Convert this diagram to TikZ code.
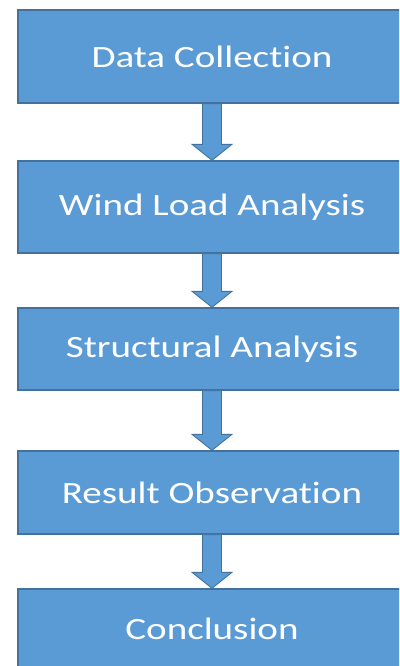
\documentclass[tikz,border=0pt]{standalone}
\usepackage{fontspec}
\setmainfont{Carlito}[Ligatures={NoCommon}]
\usetikzlibrary{calc}
\definecolor{boxfill}{HTML}{5B9BD5}
\definecolor{boxline}{HTML}{41719C}
\newcommand\widetext[1]{\scalebox{1.26}[1]{#1}}
\tikzset{
  stepbox/.style={draw=boxline, line width=1.4pt, fill=boxfill, text=white,
    font=\fontsize{31}{36}\selectfont, inner sep=0pt, minimum width=388pt},
  fatarr/.style={draw=boxline, line width=0.9pt, fill=boxfill, line join=miter}
}
\newcommand\fatarrow[2]{%
  \draw[fatarr] ($(#1.south)+(-9.5,0)$) -- ($(#2.north)+(-9.5,-16)$) -- ($(#2.north)+(-20,-16)$)
    -- (#2.north) -- ($(#2.north)+(20,-16)$) -- ($(#2.north)+(9.5,-16)$)
    -- ($(#1.south)+(9.5,0)$) -- cycle;}
\begin{document}
\begin{tikzpicture}[x=1pt,y=-1pt]
\useasboundingbox (0,0) rectangle (399,666);
\fill[white] (0,0) rectangle (399,666);
\begin{scope}
\clip (0,0) rectangle (399,666);
\node[stepbox, minimum height=93pt] (b1) at (212,56.5) {\widetext{Data Collection}};
\node[stepbox, minimum height=92pt] (b2) at (212,207) {\widetext{Wind Load Analysis}};
\node[stepbox, minimum height=82pt] (b3) at (212,349) {\widetext{Structural Analysis}};
\node[stepbox, minimum height=83pt] (b4) at (212,492.5) {\widetext{Result Observation}};
\node[stepbox, minimum height=80pt] (b5) at (212,629) {\widetext{Conclusion}};
\fatarrow{b1}{b2}
\fatarrow{b2}{b3}
\fatarrow{b3}{b4}
\fatarrow{b4}{b5}
\end{scope}
\end{tikzpicture}
\end{document}
